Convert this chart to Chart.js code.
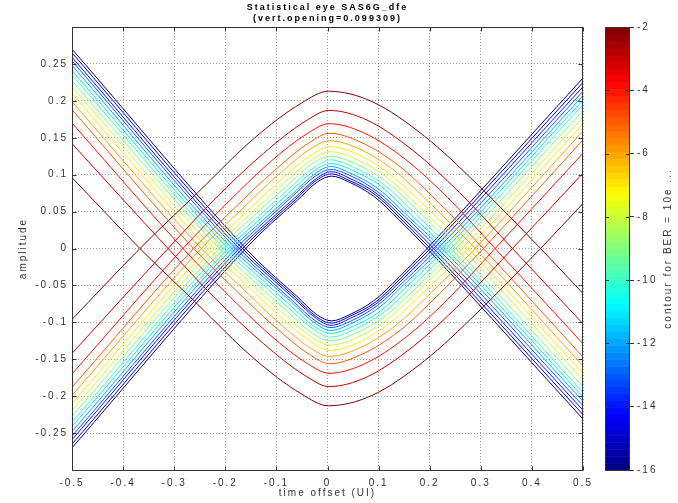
<!DOCTYPE html>
<html>
<head>
<meta charset="utf-8">
<title>Statistical eye SAS6G_dfe</title>
<script src="https://cdn.jsdelivr.net/npm/chart.js@4.4.1/dist/chart.umd.min.js"></script>
<style>
  html, body { margin: 0; padding: 0; background: #fff; }
  #wrap { position: relative; width: 678px; height: 503px; }
  #wrap canvas { position: absolute; left: 0; top: 0; }
</style>
</head>
<body>
<div id="wrap">
  <canvas id="eyeChart" width="678" height="503"></canvas>
  <canvas id="barChart" width="678" height="503"></canvas>
</div>
<script>
// contour levels (log10 of BER), outermost first
const berLevels = [-2, -3, -4, -5, -6, -7, -8, -9, -10, -11, -12, -13, -14, -15, -16];

// time window (UI)
const timeStart = -0.5;
const timeEnd = 0.5;

// amplitude of the transition at the window edges (magnitude)
const edgeLeft  = [0.096, 0.142, 0.170, 0.188, 0.199, 0.210, 0.219, 0.227, 0.235, 0.241, 0.248, 0.254, 0.259, 0.265, 0.270];
const edgeRight = [0.061, 0.102, 0.129, 0.147, 0.159, 0.169, 0.178, 0.187, 0.195, 0.201, 0.207, 0.213, 0.219, 0.225, 0.231];

// zero crossings of each contour
const crossLeft  = [-0.367, -0.312, -0.283, -0.262, -0.247, -0.234, -0.2225, -0.212, -0.203, -0.1945, -0.187, -0.1795, -0.173, -0.1665, -0.160];
const crossRight = [0.417, 0.362, 0.328, 0.305, 0.289, 0.275, 0.263, 0.251, 0.241, 0.232, 0.224, 0.216, 0.208, 0.201, 0.195];

// top of the eye
const peakTime = [0.002, 0.003, 0.003, 0.004, 0.004, 0.005, 0.005, 0.005, 0.006, 0.006, 0.006, 0.007, 0.007, 0.007, 0.008];
const peakAmp  = [0.213, 0.187, 0.169, 0.156, 0.146, 0.138, 0.131, 0.125, 0.120, 0.115, 0.111, 0.107, 0.104, 0.101, 0.098];

// points on the rising side of the eye top
const riseTime = [
  [-0.255, -0.144, -0.051], [-0.222, -0.125, -0.044], [-0.200, -0.1125, -0.039],
  [-0.1825, -0.1025, -0.0355], [-0.171, -0.096, -0.033], [-0.161, -0.090, -0.031],
  [-0.152, -0.085, -0.029], [-0.145, -0.081, -0.027], [-0.1375, -0.077, -0.026],
  [-0.132, -0.073, -0.025], [-0.126, -0.070, -0.023], [-0.122, -0.068, -0.0225],
  [-0.117, -0.065, -0.0215], [-0.1135, -0.063, -0.021], [-0.110, -0.061, -0.020]
];
const riseAmp = [
  [0.075, 0.149, 0.197], [0.066, 0.129, 0.172], [0.059, 0.117, 0.156],
  [0.0545, 0.1065, 0.1435], [0.051, 0.100, 0.135], [0.048, 0.094, 0.127],
  [0.046, 0.089, 0.121], [0.044, 0.084, 0.116], [0.042, 0.080, 0.110],
  [0.040, 0.077, 0.106], [0.0385, 0.073, 0.102], [0.037, 0.071, 0.0986],
  [0.036, 0.068, 0.095], [0.035, 0.066, 0.0927], [0.034, 0.064, 0.090]
];

// points on the falling side of the eye top
const fallTime = [
  [0.087, 0.190, 0.293], [0.077, 0.167, 0.258], [0.070, 0.152, 0.235],
  [0.065, 0.140, 0.2165], [0.0615, 0.132, 0.204], [0.058, 0.125, 0.193],
  [0.056, 0.119, 0.184], [0.054, 0.114, 0.177], [0.051, 0.109, 0.169],
  [0.050, 0.105, 0.163], [0.048, 0.101, 0.157], [0.0465, 0.098, 0.152],
  [0.045, 0.095, 0.148], [0.044, 0.093, 0.144], [0.042, 0.090, 0.140]
];
const fallAmp = [
  [0.199, 0.152, 0.087], [0.174, 0.133, 0.076], [0.157, 0.121, 0.069],
  [0.144, 0.112, 0.063], [0.135, 0.105, 0.059], [0.128, 0.099, 0.056],
  [0.121, 0.095, 0.053], [0.115, 0.091, 0.051], [0.110, 0.087, 0.049],
  [0.1055, 0.084, 0.046], [0.101, 0.080, 0.044], [0.098, 0.077, 0.043],
  [0.0945, 0.075, 0.041], [0.0917, 0.073, 0.040], [0.090, 0.071, 0.039]
];

const levelMin = -16;
const levelMax = -2;

function jetColor(t) {
    const c = v => Math.round(255 * Math.max(0, Math.min(1, v)));
    const r = c(Math.min(4 * t - 1.5, -4 * t + 4.5));
    const g = c(Math.min(4 * t - 0.5, -4 * t + 3.5));
    const b = c(Math.min(4 * t + 0.5, -4 * t + 2.5));
    return `rgb(${r},${g},${b})`;
}

function levelColor(level) {
    return jetColor((level - levelMin) / (levelMax - levelMin));
}

// upper contour: rising edge -> eye top -> falling edge
function upperPath(i) {
    const pts = [{x: timeStart, y: -edgeLeft[i]}, {x: crossLeft[i], y: 0}];
    riseTime[i].forEach((t, j) => pts.push({x: t, y: riseAmp[i][j]}));
    pts.push({x: peakTime[i], y: peakAmp[i]});
    fallTime[i].forEach((t, j) => pts.push({x: t, y: fallAmp[i][j]}));
    pts.push({x: crossRight[i], y: 0}, {x: timeEnd, y: -edgeRight[i]});
    return pts;
}

// the eye bottom is the mirror image of the top
function lowerPath(i) {
    return upperPath(i).map(p => ({x: p.x, y: -p.y}));
}

const datasets = [];
berLevels.forEach((level, i) => {
    const style = {
        borderColor: levelColor(level),
        borderWidth: 1,
        pointRadius: 0,
        showLine: true,
        cubicInterpolationMode: 'monotone',
        fill: false
    };
    datasets.push(Object.assign({label: '10e' + level + ' top', data: upperPath(i)}, style));
    datasets.push(Object.assign({label: '10e' + level + ' bottom', data: lowerPath(i)}, style));
});

Chart.defaults.font.family = "'Liberation Sans', Arial, sans-serif";
Chart.defaults.font.size = 10;
Chart.defaults.color = '#333';

const spacingPlugin = {
    id: 'spacing',
    beforeLayout(chart) { chart.ctx.letterSpacing = '2px'; },
    beforeDraw(chart) { chart.ctx.letterSpacing = '2px'; }
};

// box around the plot with small inward tick marks
const framePlugin = {
    id: 'frame',
    afterDraw(chart) {
        const {ctx, chartArea: a, scales} = chart;
        const L = Math.round(a.left) + 0.5, R = Math.round(a.right) - 0.5;
        const T = Math.round(a.top) + 0.5, B = Math.round(a.bottom) + 0.5;
        ctx.save();
        ctx.strokeStyle = '#333';
        ctx.lineWidth = 1;
        ctx.beginPath();
        scales.x.ticks.forEach(t => {
            const px = Math.round(scales.x.getPixelForValue(t.value)) + 0.5;
            ctx.moveTo(px, B); ctx.lineTo(px, B - 4);
            ctx.moveTo(px, T); ctx.lineTo(px, T + 4);
        });
        scales.y.ticks.forEach(t => {
            const py = Math.round(scales.y.getPixelForValue(t.value)) + 0.5;
            ctx.moveTo(L, py); ctx.lineTo(L + 4, py);
            ctx.moveTo(R, py); ctx.lineTo(R - 4, py);
        });
        ctx.stroke();
        ctx.strokeRect(L, T, R - L, B - T);
        ctx.restore();
    }
};

function tickText(v) {
    return String(Number(v.toFixed(2)));
}

new Chart(document.getElementById('eyeChart'), {
    type: 'scatter',
    data: {datasets: datasets},
    options: {
        responsive: false,
        animation: false,
        events: [],
        layout: {padding: {left: 0, top: 0, right: 95, bottom: 0}},
        plugins: {
            legend: {display: false},
            tooltip: {enabled: false},
            title: {
                display: true,
                fullSize: false,
                text: ['Statistical eye SAS6G_dfe', '(vert.opening=0.099309)'],
                color: '#000',
                font: {size: 9, weight: 'bold', lineHeight: 1.25},
                padding: {top: 2, bottom: 2.5}
            }
        },
        scales: {
            x: {
                type: 'linear',
                min: -0.5,
                max: 0.5,
                afterFit: s => { s.height = 33; },
                ticks: {stepSize: 0.1, padding: 7, maxRotation: 0, autoSkip: false, callback: tickText},
                grid: {color: '#a0a0a0', drawTicks: false},
                border: {display: false, dash: [1, 2]},
                title: {display: true, text: 'time offset (UI)', padding: {top: 0, bottom: 4}}
            },
            y: {
                type: 'linear',
                min: -0.3,
                max: 0.3,
                afterFit: s => { s.width = 72; },
                ticks: {
                    stepSize: 0.05,
                    padding: 4,
                    autoSkip: false,
                    callback: v => Math.abs(v) > 0.29 ? '' : tickText(v)
                },
                grid: {color: '#a0a0a0', drawTicks: false},
                border: {display: false, dash: [1, 2]},
                title: {display: true, text: 'amplitude', padding: {top: 17, bottom: 0}}
            }
        }
    },
    plugins: [spacingPlugin, framePlugin]
});

// colour bar with the BER scale
const colorBarPlugin = {
    id: 'colorBar',
    beforeDatasetsDraw(chart) {
        const {ctx, chartArea: a, scales} = chart;
        const bands = 64;
        const h = (a.bottom - a.top) / bands;
        ctx.save();
        for (let i = 0; i < bands; i++) {
            ctx.fillStyle = jetColor((i + 0.5) / bands);
            ctx.fillRect(a.left, a.bottom - (i + 1) * h, a.right - a.left, h + 0.5);
        }
        ctx.strokeStyle = '#333';
        ctx.lineWidth = 1;
        ctx.beginPath();
        scales.y.ticks.forEach(t => {
            const py = Math.round(scales.y.getPixelForValue(t.value)) + 0.5;
            ctx.moveTo(a.left, py); ctx.lineTo(a.left + 4, py);
            ctx.moveTo(a.right, py); ctx.lineTo(a.right - 4, py);
        });
        ctx.stroke();
        ctx.strokeRect(a.left + 0.5, a.top + 0.5, a.right - a.left - 1, a.bottom - a.top);
        ctx.restore();
    },
    afterDraw(chart) {
        const {ctx, chartArea: a} = chart;
        ctx.save();
        ctx.letterSpacing = '2px';
        ctx.font = "10px 'Liberation Sans', Arial, sans-serif";
        ctx.fillStyle = '#333';
        ctx.textAlign = 'center';
        ctx.textBaseline = 'middle';
        ctx.translate(668, (a.top + a.bottom) / 2);
        ctx.rotate(-Math.PI / 2);
        ctx.fillText('contour for BER = 10e ...', 0, 0);
        ctx.restore();
    }
};

new Chart(document.getElementById('barChart'), {
    type: 'scatter',
    data: {datasets: []},
    options: {
        responsive: false,
        animation: false,
        events: [],
        layout: {padding: {left: 605, top: 27, right: 0, bottom: 33}},
        plugins: {legend: {display: false}, tooltip: {enabled: false}},
        scales: {
            x: {display: false, min: 0, max: 1},
            y: {
                position: 'right',
                min: levelMin,
                max: levelMax,
                afterFit: s => { s.width = 48; },
                ticks: {stepSize: 2, padding: 3},
                grid: {drawOnChartArea: false, drawTicks: true, tickLength: 4, color: '#333'},
                border: {display: false}
            }
        }
    },
    plugins: [spacingPlugin, colorBarPlugin]
});
</script>
</body>
</html>
